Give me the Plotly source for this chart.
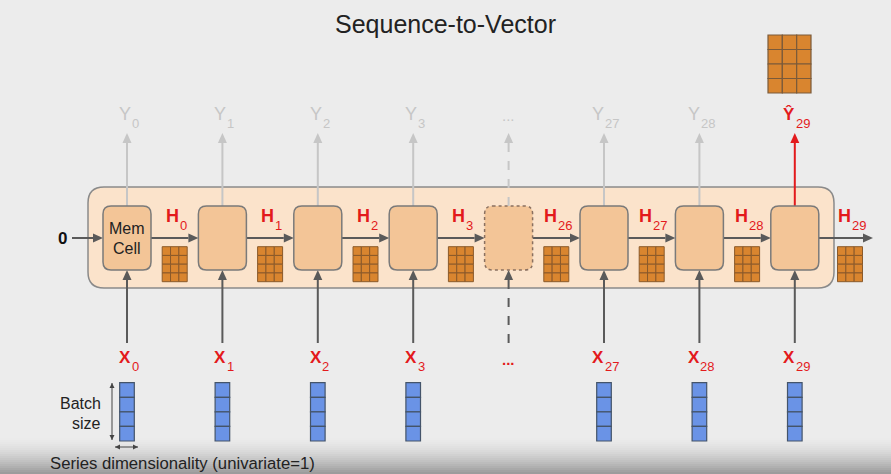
import plotly.graph_objects as go

# unrolled time steps (index 4 is the elided "..." step)
step_labels = ["0", "1", "2", "3", "...", "27", "28", "29"]
hidden_labels = ["0", "1", "2", "3", "26", "27", "28", "29"]
output_label = "29"
batch_size = 4
state_rows, state_cols = 4, 3
out_rows, out_cols = 4, 3
elided_step = 4

RED = "#e31a1c"
DARK = "#5a5a5a"
LIGHT = "#c6c6c6"
FONT = "Arial, Liberation Sans, sans-serif"

# layout of the drawing (pixel-like units, y downwards)
x_first, pitch = 127, 95.4
cx = [x_first + pitch * i for i in range(len(step_labels))]
gap_cx = [c + pitch / 2 for c in cx[:-1]] + [850]
cell_w, cell_top, cell_bot = 48, 206, 270
flow_y = 238

shapes = []
annotations = []


def rrect(x0, y0, x1, y1, r):
    return (f"M {x0+r},{y0} L {x1-r},{y0} Q {x1},{y0} {x1},{y0+r} "
            f"L {x1},{y1-r} Q {x1},{y1} {x1-r},{y1} L {x0+r},{y1} "
            f"Q {x0},{y1} {x0},{y1-r} L {x0},{y0+r} Q {x0},{y0} {x0+r},{y0} Z")


def arrow(x0, y0, x1, y1, color, width=2, dash="solid", head=10, hw=4.5):
    dx, dy = x1 - x0, y1 - y0
    n = (dx * dx + dy * dy) ** 0.5
    ux, uy = dx / n, dy / n
    bx, by = x1 - ux * head, y1 - uy * head
    shapes.append(dict(type="line", x0=x0, y0=y0, x1=bx, y1=by,
                       line=dict(color=color, width=width, dash=dash)))
    px, py = -uy * hw, ux * hw
    shapes.append(dict(type="path",
                       path=f"M {x1},{y1} L {bx+px},{by+py} L {bx-px},{by-py} Z",
                       fillcolor=color, line=dict(color=color, width=0)))


def grid(x0, y0, x1, y1, rows, cols, fill, edge, lw=1):
    w, h = (x1 - x0) / cols, (y1 - y0) / rows
    for r in range(rows):
        for c in range(cols):
            shapes.append(dict(type="rect", x0=x0 + c * w, x1=x0 + (c + 1) * w,
                               y0=y0 + r * h, y1=y0 + (r + 1) * h,
                               fillcolor=fill, line=dict(color=edge, width=lw)))


def text(x, y, s, size, color, anchor="center", bold=False):
    if bold:
        s = f"<b>{s}</b>"
    annotations.append(dict(x=x, y=y, text=s, showarrow=False, xanchor=anchor,
                            yanchor="middle",
                            font=dict(family=FONT, size=size, color=color)))


def sub_label(x, y, main, sub, size, color, bold, main_w, sub_size=13, dy=9):
    sub_w = 0.556 * sub_size * len(sub)
    left = x - (main_w + 1 + sub_w) / 2
    text(left, y, main, size, color, "left", bold)
    text(left + main_w + 1, y + dy, sub, sub_size, color, "left")


# bottom shading
for k in range(19):
    y0 = 436 + 2 * k
    t = k / 18
    v = int(236 - 80 * t ** 1.6)
    shapes.append(dict(type="rect", x0=0, x1=891, y0=y0, y1=y0 + 2.2,
                       fillcolor=f"rgb({v},{v},{v})", line=dict(width=0)))

# container
shapes.append(dict(type="path", path=rrect(88, 187, 834, 288, 16),
                   fillcolor="#fbe3cb", line=dict(color="#8a8a8a", width=1.5)))

# input 0 and recurrent arrows
text(62, flow_y, "0", 17, "#111111", bold=True)
arrow(72, flow_y, cx[0] - cell_w / 2, flow_y, DARK)
for i in range(len(cx)):
    end = cx[i + 1] - cell_w / 2 if i + 1 < len(cx) else 873
    arrow(cx[i] + cell_w / 2, flow_y, end, flow_y, DARK)

# outputs (upward arrows)
for i, c in enumerate(cx):
    if i == len(cx) - 1:
        arrow(c, cell_top, c, 133, RED, width=2)
    elif i == elided_step:
        arrow(c, cell_top, c, 133, LIGHT, dash="dash")
        text(c, 115, "...", 15, LIGHT)
    else:
        arrow(c, cell_top, c, 133, LIGHT)
        sub_label(c, 114, "Y", step_labels[i], 18, LIGHT, False, 12, 13)

# inputs (upward arrows into cells)
for i, c in enumerate(cx):
    arrow(c, 343, c, cell_bot, DARK, dash="dash" if i == elided_step else "solid")
    if i == elided_step:
        text(c, 359, "...", 15, RED, bold=True)
    else:
        sub_label(c, 357, "X", step_labels[i], 17, RED, True, 11.6)
        top = 382.7
        h = (441 - top) / batch_size
        for r in range(batch_size):
            shapes.append(dict(type="rect", x0=c - 7.3, x1=c + 7.3,
                               y0=top + r * h, y1=top + (r + 1) * h,
                               fillcolor="#6a93e6",
                               line=dict(color="#44546a", width=1.2)))

# memory cells
for i, c in enumerate(cx):
    shapes.append(dict(type="path",
                       path=rrect(c - cell_w / 2, cell_top, c + cell_w / 2, cell_bot, 8),
                       fillcolor="#f3c597",
                       line=dict(color="#7a7a7a" if i != elided_step else "#8a7060",
                                 width=1.5,
                                 dash="dot" if i == elided_step else "solid")))
text(cx[0], 228, "Mem", 16, "#222222")
text(cx[0], 248, "Cell", 16, "#222222")

# hidden states
for i, g in enumerate(gap_cx):
    sub_label(g, 216, "H", hidden_labels[i], 18, RED, True, 13)
    grid(g - 12.5, 246.7, g + 12.5, 281.7, state_rows, state_cols,
         "#d9852f", "#8b5a2b")

# final prediction
sub_label(cx[-1], 114, "Ŷ", output_label, 17, RED, True, 11.6)
grid(768, 35, 811, 93, out_rows, out_cols, "#d9852f", "#7a5a3a", 1.2)

# batch / dimensionality annotations
text(103, 403, "Batch", 16, "#222222", "right")
text(103, 423, "size", 16, "#222222", "right")
shapes.append(dict(type="line", x0=112, x1=112, y0=383, y1=440,
                   line=dict(color="#444444", width=1)))
for y0, d in ((383, 1), (440, -1)):
    shapes.append(dict(type="path",
                       path=f"M 112,{y0} L 109.5,{y0+5*d} L 114.5,{y0+5*d} Z",
                       fillcolor="#444444", line=dict(width=0)))
shapes.append(dict(type="line", x0=115, x1=138, y0=447, y1=447,
                   line=dict(color="#444444", width=1)))
for x0, d in ((115, 1), (138, -1)):
    shapes.append(dict(type="path",
                       path=f"M {x0},447 L {x0+5*d},444.5 L {x0+5*d},449.5 Z",
                       fillcolor="#444444", line=dict(width=0)))
text(48, 463, "Series dimensionality (univariate=1)", 16.7, "#222222", "left")

# title
text(445, 24, "Sequence-to-Vector", 25, "#222222")

fig = go.Figure()
fig.update_layout(
    width=891, height=474,
    margin=dict(l=0, r=0, t=0, b=0),
    paper_bgcolor="#ececec", plot_bgcolor="#ececec",
    shapes=shapes, annotations=annotations, showlegend=False,
    xaxis=dict(range=[0, 891], visible=False, fixedrange=True),
    yaxis=dict(range=[474, 0], visible=False, fixedrange=True),
)
# page has a default 8px body margin; drop it so the drawing fills the window
fig.write_html("out.html", config={"displayModeBar": False},
               post_script="document.body.style.margin='0';"
                           "document.body.style.background='#ececec';")
